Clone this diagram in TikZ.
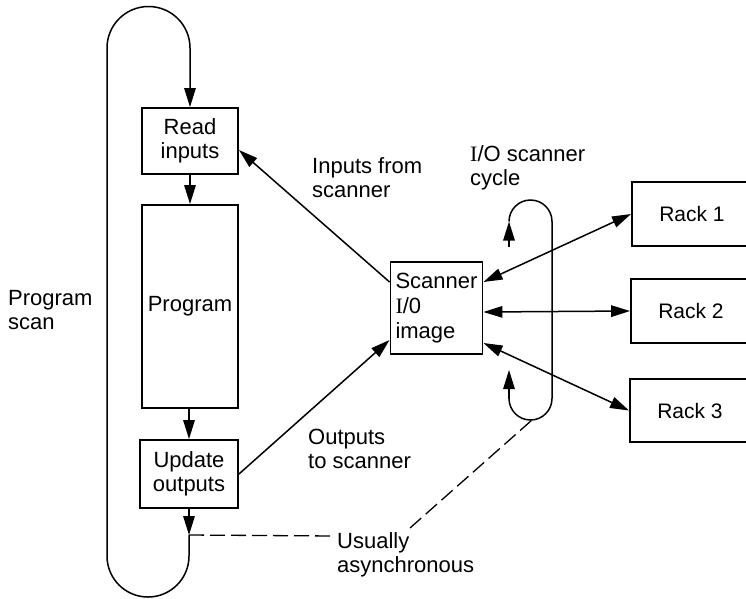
\documentclass[tikz,border=0pt]{standalone}
\usepackage{fontspec}
\setmainfont{Liberation Sans}
\newfontfamily\serifI{Liberation Serif}
\usetikzlibrary{arrows.meta}
\newcommand\figfont{\fontsize{22}{24}\selectfont}
\newcommand\rackfont{\fontsize{21}{24}\selectfont}
\begin{document}
\begin{tikzpicture}[x=1pt,y=1pt,
  box/.style={draw,line width=1.9pt,inner sep=0pt,align=center,font=\figfont},
  lbl/.style={align=left,inner sep=0pt,anchor=north west,font=\figfont},
  ln/.style={line width=1.5pt},
  arr/.style={line width=1.5pt,-{Triangle[length=19pt,width=11.5pt]}},
  darr/.style={line width=1.5pt,{Triangle[length=19pt,width=11.5pt]}-{Triangle[length=19pt,width=11.5pt]}},
  dsh/.style={line width=1.3pt,dash pattern=on 15pt off 6pt}]
\useasboundingbox (0,0) rectangle (746,-598);
\clip (0,0) rectangle (746,-598);
% program side
\node[box,minimum width=96pt,minimum height=66pt] (ri) at (190,-141) {Read\\inputs};
\node[box,minimum width=96pt,minimum height=203pt] (prog) at (190,-306.5) {Program};
\node[box,minimum width=98pt,minimum height=68pt] (uo) at (189,-474) {Update\\outputs};
\draw[arr] (ri) -- (prog);
\draw[arr] (prog.south -| uo.north) -- (uo.north);
\coordinate (d1) at (189,-535);
\draw[arr] (uo) -- (d1);
\draw[ln] (d1) -- (189,-556) arc[start angle=0,end angle=-180,radius=41pt] -- (107,-556);
\draw[arr] (107,-556) -- (107,-48) arc[start angle=180,end angle=0,radius=41.5pt] -- (ri.north);
\node[lbl] (ps) at (8,-290) {Program\\scan};
% scanner
\node[box,align=left,minimum width=92pt,minimum height=92pt,font=\fontsize{22}{25}\selectfont] (sc) at (436.5,-308) {Scanner\\{\serifI I}/0\\image};
\node[box,font=\rackfont,minimum width=120pt,minimum height=64pt] (r1) at (692,-214) {Rack 1};
\node[box,font=\rackfont,minimum width=120pt,minimum height=64pt] (r2) at (691,-311) {Rack 2};
\node[box,font=\rackfont,minimum width=120pt,minimum height=63pt] (r3) at (690,-410.5) {Rack 3};
\draw[darr] ([yshift=26pt]sc.east) -- (r1.west);
\draw[darr] ([yshift=-4pt]sc.east) -- (r2.west);
\draw[darr] ([yshift=-35pt]sc.east) -- (r3.west);
\draw[arr] ([yshift=26pt]sc.west) -- ([yshift=-9pt]ri.east);
\draw[arr] (uo.east) -- ([yshift=-32pt]sc.west);
% scanner cycle loop
\draw[arr] (509,-247) -- (509,-221.5);
\draw[ln] (509,-221.5) arc[start angle=180,end angle=0,radius=21.5pt] -- (552,-398.5) arc[start angle=0,end angle=-180,radius=21.5pt];
\draw[arr] (509,-398.5) -- (509,-370);
\coordinate (d2) at (532,-420);
% labels
\node[lbl] (ifs) at (312,-157) {Inputs from\\scanner};
\node[lbl] (ioc) at (470,-145) {{\serifI I}/O scanner\\cycle};
\node[lbl] (ots) at (308,-429) {Outputs\\to scanner};
\node[lbl] (ua) at (337,-532) {Usually\\asynchronous};
\coordinate (u1) at (335,-536);
\coordinate (u2) at (410,-528);
\draw[dsh] (d1) -- (u1);
\draw[dsh] (u2) -- (d2);
\end{tikzpicture}
\end{document}
